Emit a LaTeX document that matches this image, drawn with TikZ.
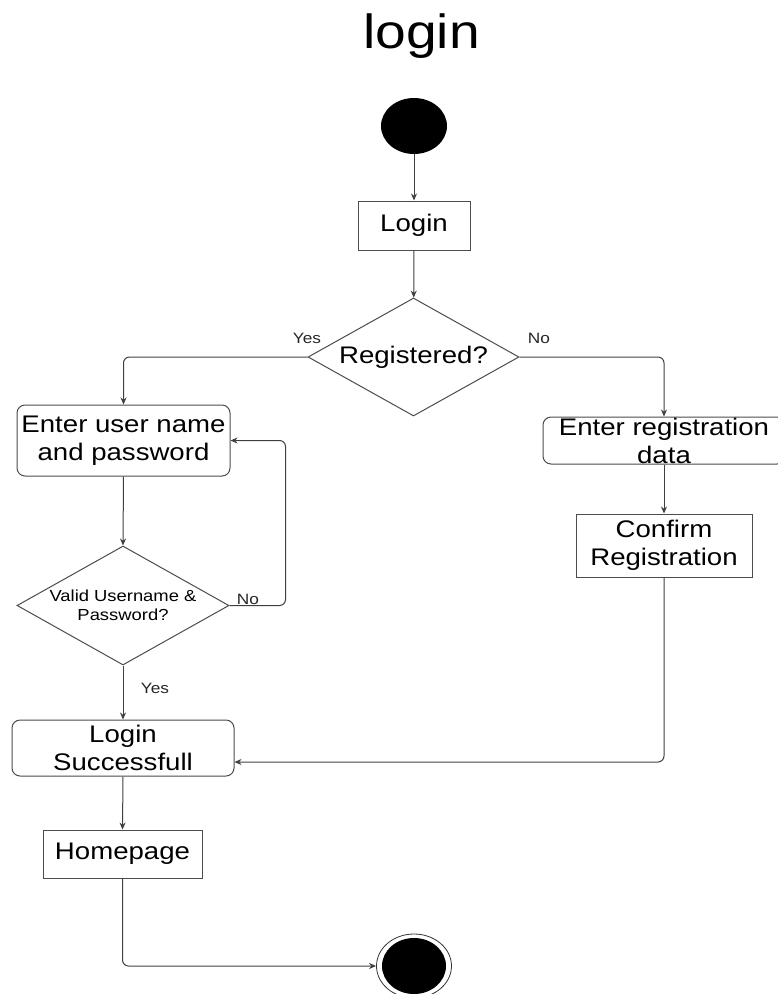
\documentclass[tikz,border=0pt]{standalone}
\usepackage{fontspec}
\setmainfont{Liberation Sans}[FakeStretch=1.15]
\usetikzlibrary{shapes.geometric,arrows.meta}
\begin{document}
\begin{tikzpicture}[x=1pt,y=-1pt,
  every node/.style={inner sep=0pt, font=\fontsize{24}{28}\selectfont},
  box/.style={draw=black!70, line width=1pt, align=center},
  roundbox/.style={box, rounded corners=8pt},
  decision/.style={draw=black!70, line width=1pt, diamond, align=center},
  flow/.style={draw=black!75, line width=1pt, rounded corners=6pt,
    -{Stealth[length=7pt,width=6pt]}},
  guard/.style={font=\fontsize{15}{18}\selectfont, text=black!85}
]
\useasboundingbox (0,0) rectangle (778,994);

% title
\node[anchor=base, font=\fontsize{48}{56}\selectfont] (title) at (421.5,48) {login};

% start and end states
\node[ellipse, fill=black, minimum width=66pt, minimum height=56pt] (start) at (414,126) {};
\node[ellipse, draw=black!80, line width=0.8pt, fill=white, minimum width=75pt, minimum height=64pt] (endc) at (414,966) {};
\node[ellipse, fill=black, minimum width=64pt, minimum height=56pt] (endin) at (414,966) {};

% activities
\node[box, minimum width=112pt, minimum height=49pt] (login) at (414,225.5) {Login};
\node[decision, minimum width=211pt, minimum height=118pt, aspect=1.79] (reg) at (413.5,357) {Registered?};
\node[roundbox, minimum width=213pt, minimum height=71pt] (user) at (123.5,440.5) {Enter user name\\and password};
\node[draw=black!70, line width=1pt, rounded corners=8pt, minimum width=242pt, minimum height=47pt] (regdata) at (664,440.5) {};
\node[align=center] (regdatatext) at (664,441) {Enter registration\\data};
\node[box, minimum width=176pt, minimum height=63pt] (confirm) at (664,545.5) {Confirm\\Registration};
\node[decision, minimum width=212pt, minimum height=119pt, aspect=1.78,
  font=\fontsize{16}{19}\selectfont] (valid) at (123,605.5) {Valid Username \&\\Password?};
\node[roundbox, minimum width=222pt, minimum height=56pt] (succ) at (123,748) {Login\\Successfull};
\node[box, minimum width=159pt, minimum height=48pt] (home) at (122.5,854) {Homepage};

% guard labels
\node[guard] (yes1) at (307,338) {Yes};
\node[guard] (no1) at (539,338) {No};
\node[guard] (no2) at (248,599) {No};
\node[guard] (yes2) at (155,688) {Yes};

% transitions
\draw[flow] (start) -- (login);
\draw[flow] (login) -- (reg);
\draw[flow] (reg.west) -| (user.north);
\draw[flow] (reg.east) -| (regdata.north);
\draw[flow] (regdata.south) -- (confirm.north);
\draw[flow] (user.south) -- (valid.north);
\draw[flow] (valid.east) -- ++(56,0) |- (user.east);
\draw[flow] (valid.south) -- (succ.north);
\draw[flow] (confirm.south) |- ([yshift=-14pt]succ.east);
\draw[flow] (succ.south) -- (home.north);
\draw[flow] (home.south) |- (endc.west);
\end{tikzpicture}
\end{document}
